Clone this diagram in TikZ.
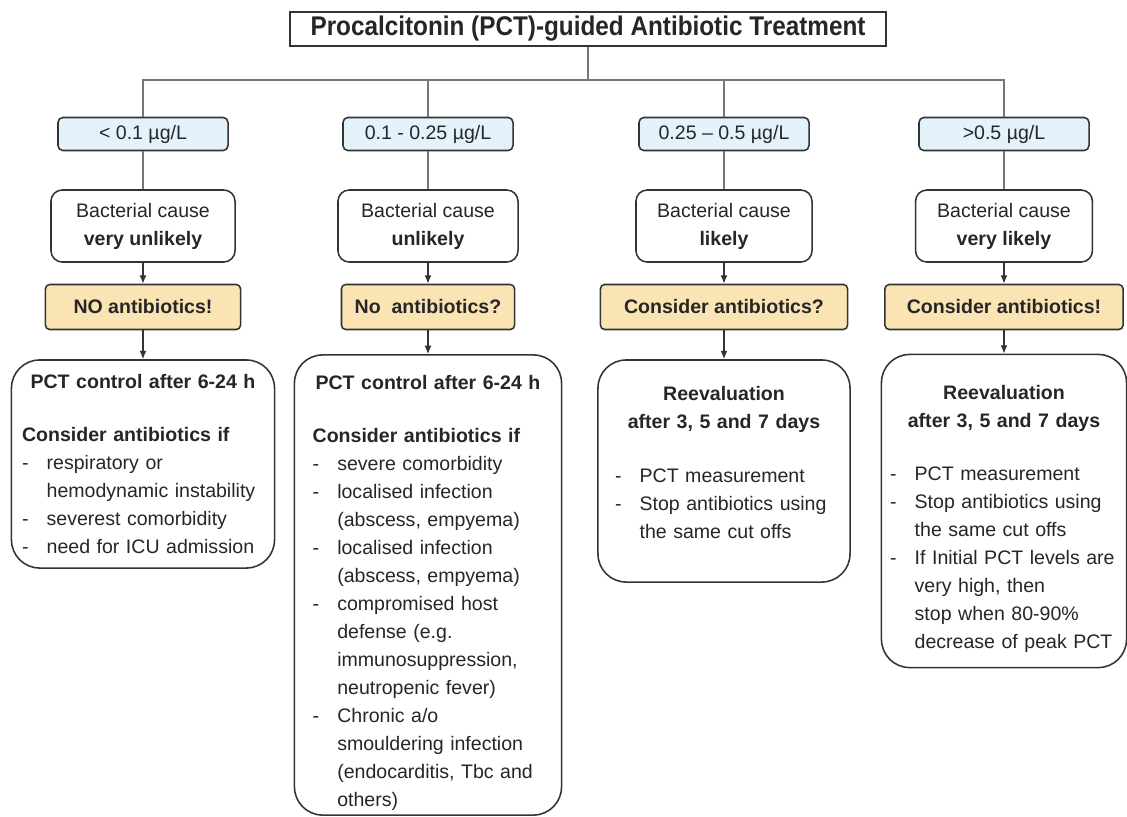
\documentclass[tikz,border=0pt]{standalone}
\usepackage{fontspec}
\setmainfont{Liberation Sans}
\newfontface\titlefont[FakeStretch=0.9]{Liberation Sans Bold}
\usetikzlibrary{arrows.meta}

\definecolor{lvlblue}{HTML}{E3F2FB}
\definecolor{actorange}{HTML}{FBE4B4}
\definecolor{boxedge}{HTML}{333333}
\definecolor{treegray}{HTML}{767676}

\newcommand{\ditem}{\makebox[17.5pt][l]{-}}
\newcommand{\dcont}{\hspace*{17.5pt}}
\newcommand{\nhead}[1]{{\centering\bfseries #1\par}\vspace{18pt}}
\hfuzz=20pt

\begin{document}
\begin{tikzpicture}[x=0.025cm,y=-0.025cm,
    every node/.style={font=\fontsize{13.9pt}{19.9pt}\selectfont, text=black!85},
    titlebox/.style={draw=boxedge, line width=1.4pt, fill=white, minimum width=14.875cm, minimum height=0.85cm, inner sep=0pt},
    lvlbox/.style={draw=boxedge, line width=1.1pt, fill=lvlblue, rounded corners=3.5pt, minimum width=4.25cm, minimum height=0.825cm},
    causebox/.style={draw=boxedge, line width=1.1pt, fill=white, rounded corners=8pt, minimum height=1.8cm, align=center},
    actbox/.style={draw=boxedge, line width=1.1pt, fill=actorange, rounded corners=3pt, minimum height=1.125cm, font=\fontsize{13.9pt}{19.9pt}\selectfont\bfseries},
    notebox/.style={draw=boxedge, line width=1.1pt, fill=white, rounded corners=20pt, align=left},
    tree/.style={treegray, line width=1.4pt},
    arr/.style={boxedge, line width=1pt, -{Latex[length=6pt,width=5pt]}}]
    \useasboundingbox (0,0) rectangle (1127,817);

    \node[titlebox] (title) at (588,29) {\fontsize{19.2pt}{21pt}\titlefont Procalcitonin (PCT)-guided Antibiotic Treatment};
    \coordinate (bus) at (588,80);

    % PCT levels
    \node[lvlbox] (lvl1) at (143,134) {< 0.1 µg/L};
    \node[lvlbox] (lvl2) at (428,134) {0.1 - 0.25 µg/L};
    \node[lvlbox] (lvl3) at (724,134) {0.25 – 0.5 µg/L};
    \node[lvlbox] (lvl4) at (1004,134) {>0.5 µg/L};

    % bacterial cause
    \node[causebox, minimum width=4.6cm] (cause1) at (143,226) {Bacterial cause\\\textbf{very unlikely}};
    \node[causebox, minimum width=4.5cm] (cause2) at (428,226) {Bacterial cause\\\textbf{unlikely}};
    \node[causebox, minimum width=4.4cm] (cause3) at (724,226) {Bacterial cause\\\textbf{likely}};
    \node[causebox, minimum width=4.42cm] (cause4) at (1004,226) {Bacterial cause\\\textbf{very likely}};

    % what to do
    \node[actbox, minimum width=4.875cm] (act1) at (143,307) {NO antibiotics!};
    \node[actbox, minimum width=4.325cm] (act2) at (428,307) {No\ \ antibiotics?};
    \node[actbox, minimum width=6.175cm] (act3) at (724,307) {Consider antibiotics?};
    \node[actbox, minimum width=5.95cm] (act4) at (1004,307) {Consider antibiotics!};

    % follow up
    \node[notebox, minimum width=6.575cm, minimum height=5.2cm, text width=172pt] (ctrl1) at (143,464) {\nhead{PCT control after 6-24 h}
        \textbf{Consider antibiotics if}\\
        \ditem respiratory or\\
        \dcont hemodynamic instability\\
        \ditem severest comorbidity\\
        \ditem need for ICU admission};
    \node[notebox, minimum width=6.675cm, minimum height=11.5cm, text width=164pt] (ctrl2) at (428,585) {\nhead{PCT control after 6-24 h}
        \textbf{Consider antibiotics if}\\
        \ditem severe comorbidity\\
        \ditem localised infection\\
        \dcont (abscess, empyema)\\
        \ditem localised infection\\
        \dcont (abscess, empyema)\\
        \ditem compromised host\\
        \dcont defense (e.g.\\
        \dcont immunosuppression,\\
        \dcont neutropenic fever)\\
        \ditem Chronic a/o\\
        \dcont smouldering infection\\
        \dcont (endocarditis, Tbc and\\
        \dcont others)\par\vspace{-11pt}};
    \node[notebox, minimum width=6.3cm, minimum height=5.55cm, text width=155pt] (reev3) at (724,471) {\nhead{Reevaluation\\after 3, 5 and 7 days}
        \ditem PCT measurement\\
        \ditem Stop antibiotics using\\
        \dcont the same cut offs\par\vspace{12pt}};
    \node[notebox, minimum width=6.125cm, minimum height=7.825cm, text width=162pt] (reev4) at (1004,511) {\nhead{Reevaluation\\after 3, 5 and 7 days}
        \ditem PCT measurement\\
        \ditem Stop antibiotics using\\
        \dcont the same cut offs\\
        \ditem \mbox{If Initial PCT levels are}\\
        \dcont very high, then\\
        \dcont stop when 80-90\%\\
        \dcont \mbox{decrease of peak PCT}\par\vspace{-11pt}};

    % tree
    \draw[tree] (title) -- (bus);
    \draw[tree] (lvl1.north) |- (bus) -| (lvl4.north);
    \draw[tree] (lvl2.north) -- (lvl2.north |- bus);
    \draw[tree] (lvl3.north) -- (lvl3.north |- bus);
    \draw[tree] (lvl1) -- (cause1);
    \draw[tree] (lvl2) -- (cause2);
    \draw[tree] (lvl3) -- (cause3);
    \draw[tree] (lvl4) -- (cause4);

    % arrows
    \draw[arr] (cause1) -- (act1);
    \draw[arr] (cause2) -- (act2);
    \draw[arr] (cause3) -- (act3);
    \draw[arr] (cause4) -- (act4);
    \draw[arr] (act1) -- (ctrl1);
    \draw[arr] (act2) -- (ctrl2);
    \draw[arr] (act3) -- (reev3);
    \draw[arr] (act4) -- (reev4);

\end{tikzpicture}
\end{document}
